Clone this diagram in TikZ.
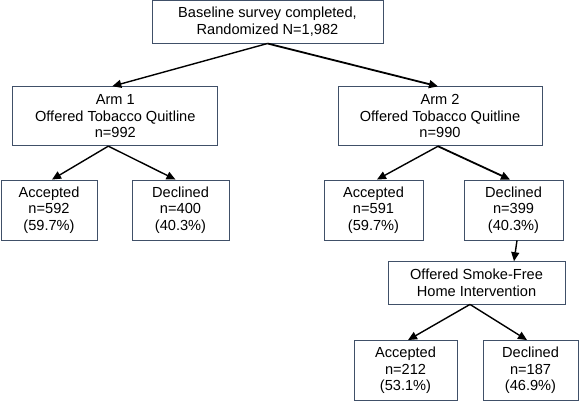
\documentclass[tikz,border=0pt]{standalone}
\usepackage{fontspec}
\setmainfont{Liberation Sans}
\usetikzlibrary{arrows.meta}
\definecolor{boxline}{RGB}{64,80,104}
\tikzset{
  box/.style={draw=boxline, line width=0.9pt, rectangle, inner sep=0pt, align=center,
    font=\fontsize{14.6pt}{16.5pt}\selectfont, text=black},
  arr/.style={draw=black, line width=1.4pt, -{Triangle[length=9pt,width=8pt]}},
  arrthick/.style={arr, line width=1.8pt}
}
\begin{document}
\begin{tikzpicture}[x=1pt,y=-1pt]
\useasboundingbox (0,0) rectangle (579,402);
\node[box, minimum width=231pt, minimum height=42.5pt] (top) at (267.5,21.8) {Baseline survey completed,\\Randomized N=1,982};
\node[box, minimum width=205pt, minimum height=59pt] (arm1) at (115.3,116.2) {Arm 1\\Offered Tobacco Quitline\\n=992};
\node[box, minimum width=204pt, minimum height=59pt] (arm2) at (440,116.3) {Arm 2\\Offered Tobacco Quitline\\n=990};
\node[box, minimum width=96pt, minimum height=60pt] (acc1) at (49,210) {Accepted\\n=592\\(59.7\%)};
\node[box, minimum width=97pt, minimum height=60pt] (dec1) at (180.5,210) {Declined\\n=400\\(40.3\%)};
\node[box, minimum width=99pt, minimum height=60pt] (acc2) at (373.5,210) {Accepted\\n=591\\(59.7\%)};
\node[box, minimum width=99pt, minimum height=60pt] (dec2) at (513.5,210) {Declined\\n=399\\(40.3\%)};
\node[box, minimum width=177pt, minimum height=42.3pt] (smoke) at (476.5,282.8) {Offered Smoke-Free\\Home Intervention};
\node[box, minimum width=103pt, minimum height=60pt] (acc3) at (405.5,370.5) {Accepted\\n=212\\(53.1\%)};
\node[box, minimum width=95pt, minimum height=60pt] (dec3) at (530.5,370.5) {Declined\\n=187\\(46.9\%)};
\draw[arr] (top.south) -- ([xshift=-3pt]arm1.north);
\draw[arrthick] (top.south) -- ([xshift=-2pt]arm2.north);
\draw[arr] ([xshift=-7pt]arm1.south) -- ([xshift=3pt]acc1.north);
\draw[arr] ([xshift=-7pt]arm1.south) -- ([xshift=-5pt]dec1.north);
\draw[arr] ([xshift=-2pt]arm2.south) -- ([xshift=3.5pt]acc2.north);
\draw[arrthick] ([xshift=-2pt]arm2.south) -- ([xshift=-3.5pt]dec2.north);
\draw[arr] ([xshift=3.5pt]dec2.south) -- ([xshift=37.5pt]smoke.north);
\draw[arr] ([xshift=-6.5pt]smoke.south) -- ([xshift=2.5pt]acc3.north);
\draw[arr] ([xshift=-6.5pt]smoke.south) -- ([xshift=-3.5pt]dec3.north);
\end{tikzpicture}
\end{document}
